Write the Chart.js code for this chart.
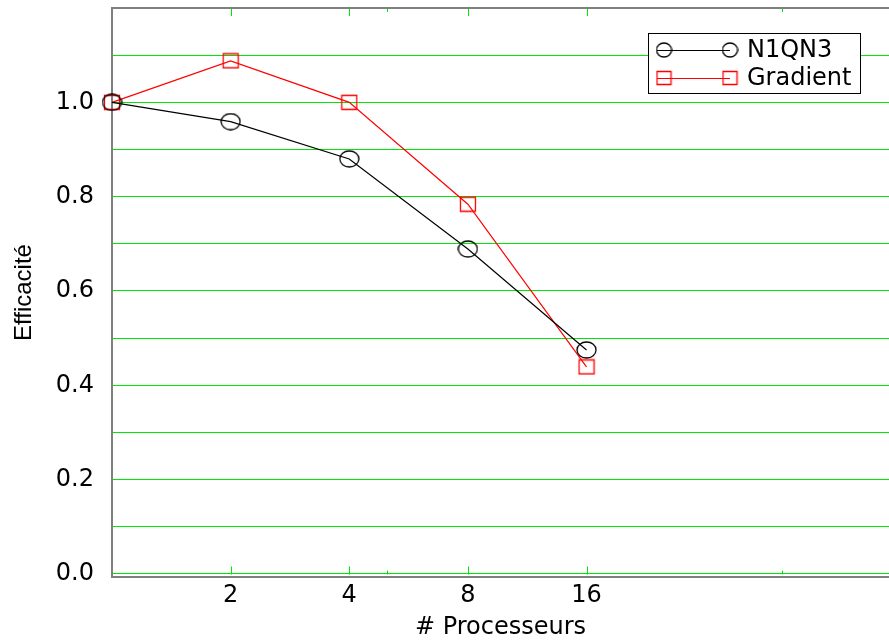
<!DOCTYPE html>
<html>
<head>
<meta charset="utf-8">
<title>Efficacité</title>
<script src="https://cdn.jsdelivr.net/npm/chart.js@4.4.1/dist/chart.umd.min.js"></script>
<style>
  html, body { margin: 0; padding: 0; background: #fff; }
  canvas { display: block; }
</style>
</head>
<body>
<canvas id="graf" width="889" height="644"></canvas>
<script>
// ---- données ----
const procs = [1, 2, 4, 8, 16];
const effN1QN3 = [1.0, 0.959, 0.880, 0.689, 0.475];
const effGradient = [1.0, 1.088, 1.0, 0.784, 0.439];

// graduations
const xTicks = [2, 4, 8, 16];
const xTickLabels = ["2", "4", "8", "16"];
const xMinorTicks = [5, 50];
const yTicks = [0, 0.1, 0.2, 0.3, 0.4, 0.5, 0.6, 0.7, 0.8, 0.9, 1.0, 1.1, 1.2];
const yTickLabels = ["0.0", "", "0.2", "", "0.4", "", "0.6", "", "0.8", "", "1.0", "", ""];

const FONT = "'DejaVu Sans', 'Liberation Sans', Arial, sans-serif";
const FONT_Y = "'Liberation Sans', Arial, Helvetica, sans-serif";
const VERT = "#00e600";
const GRIS = "#7f7f7f";

// marqueurs un peu plus larges que hauts, comme sur l'original
function marqueur(forme, w, h, couleur) {
  const c = document.createElement("canvas");
  c.width = w + 2;
  c.height = h + 2;
  const g = c.getContext("2d");
  g.strokeStyle = couleur;
  g.lineWidth = 1.3;
  g.beginPath();
  if (forme === "rond") {
    g.ellipse(c.width / 2, c.height / 2, w / 2, h / 2, 0, 0, Math.PI * 2);
  } else {
    g.rect(1.5, 1.5, w - 1, h - 1);
  }
  g.stroke();
  return c;
}

const rondGraphe = marqueur("rond", 19, 16, "#000");
const carreGraphe = marqueur("carre", 16, 15, "#ff0000");
const rondLegende = marqueur("rond", 15, 14, "#000");
const carreLegende = marqueur("carre", 15, 14, "#ff0000");

// ---- cadre haut + petites graduations vertes (vers l'intérieur) ----
const cadre = {
  id: "cadre",
  afterDatasetsDraw(chart) {
    const ctx = chart.ctx;
    const a = chart.chartArea;
    const sx = chart.scales.x;
    const sy = chart.scales.y;
    const y0 = Math.round(sy.getPixelForValue(0)) + 0.5;
    ctx.save();
    ctx.strokeStyle = VERT;
    ctx.lineWidth = 1;
    const marque = (v, len) => {
      const px = Math.round(sx.getPixelForValue(v)) + 0.5;
      ctx.beginPath();
      ctx.moveTo(px, y0);
      ctx.lineTo(px, y0 - len);
      ctx.moveTo(px, a.top);
      ctx.lineTo(px, a.top + len);
      ctx.stroke();
    };
    xTicks.forEach(v => marque(v, 8));
    xMinorTicks.forEach(v => marque(v, 4));
    // ligne du haut
    ctx.strokeStyle = GRIS;
    ctx.lineWidth = 2;
    ctx.beginPath();
    ctx.moveTo(a.left, a.top);
    ctx.lineTo(a.right, a.top);
    ctx.stroke();
    ctx.restore();
  }
};

// ---- légende encadrée, marqueur aux deux bouts ----
const legendeBoite = {
  id: "legendeBoite",
  afterDraw(chart) {
    const ctx = chart.ctx;
    const bx = 648, by = 33, bw = 212, bh = 60;
    const icones = [rondLegende, carreLegende];
    ctx.save();
    ctx.fillStyle = "#fff";
    ctx.fillRect(bx, by, bw, bh);
    ctx.strokeStyle = "#000";
    ctx.lineWidth = 1;
    ctx.strokeRect(bx + 0.5, by + 0.5, bw, bh);
    chart.data.datasets.forEach((ds, i) => {
      const yy = by + 17 + i * 28;
      const x1 = 664, x2 = 730;
      ctx.strokeStyle = ds.borderColor;
      ctx.lineWidth = 1;
      ctx.beginPath();
      ctx.moveTo(x1 - 7, yy + 0.5);
      ctx.lineTo(x2, yy + 0.5);
      ctx.stroke();
      const opts = { pointStyle: icones[i], radius: 8, rotation: 0, borderWidth: 1 };
      Chart.helpers.drawPoint(ctx, opts, x1, yy);
      Chart.helpers.drawPoint(ctx, opts, x2, yy);
      ctx.fillStyle = "#000";
      ctx.font = "24px " + FONT;
      ctx.textBaseline = "middle";
      ctx.textAlign = "left";
      ctx.fillText(ds.label, 747, yy + 1);
    });
    ctx.restore();
  }
};

const chart = new Chart(document.getElementById("graf"), {
  type: "line",
  data: {
    datasets: [
      {
        label: "N1QN3",
        data: procs.map((p, i) => ({ x: p, y: effN1QN3[i] })),
        borderColor: "#000",
        borderWidth: 1.2,
        pointStyle: rondGraphe,
        pointRadius: 9,
        tension: 0,
        clip: false
      },
      {
        label: "Gradient",
        data: procs.map((p, i) => ({ x: p, y: effGradient[i] })),
        borderColor: "#ff0000",
        borderWidth: 1.2,
        pointStyle: carreGraphe,
        pointRadius: 9,
        tension: 0,
        clip: false
      }
    ]
  },
  options: {
    responsive: false,
    animation: false,
    devicePixelRatio: 1,
    layout: { autoPadding: false, padding: { top: 8, right: 0, bottom: 0, left: 0 } },
    plugins: {
      legend: { display: false },
      tooltip: { enabled: false }
    },
    scales: {
      x: {
        type: "logarithmic",
        min: 1,
        max: Math.pow(2, 6.55),
        afterBuildTicks: (s) => { s.ticks = xTicks.map(v => ({ value: v })); },
        afterFit: (s) => {
          s.height = 67;
          s.paddingLeft = 0; s.paddingRight = 0;
        },
        ticks: {
          autoSkip: false,
          maxRotation: 0,
          padding: 4,
          color: "#000",
          font: { family: FONT, size: 24 },
          callback: (v) => {
            const k = xTicks.indexOf(v);
            return k >= 0 ? xTickLabels[k] : "";
          }
        },
        grid: { display: false, drawTicks: false },
        border: { display: true, color: GRIS, width: 2 },
        title: {
          display: true,
          text: "# Processeurs",
          color: "#000",
          font: { family: FONT, size: 24 },
          padding: { top: 0, bottom: 2 }
        }
      },
      y: {
        min: -0.0064,
        max: 1.2,
        afterBuildTicks: (s) => { s.ticks = yTicks.map(v => ({ value: v })); },
        afterFit: (s) => {
          s.width = 112;
          s.paddingTop = 0; s.paddingBottom = 0;
        },
        ticks: {
          autoSkip: false,
          padding: 18,
          color: "#000",
          font: { family: FONT, size: 24 },
          callback: (v) => {
            const k = yTicks.findIndex(t => Math.abs(t - v) < 1e-6);
            return k >= 0 ? yTickLabels[k] : "";
          }
        },
        grid: { color: VERT, lineWidth: 1, drawTicks: false },
        border: { display: true, color: GRIS, width: 2 },
        title: {
          display: true,
          text: "Efficacité",
          color: "#000",
          font: { family: FONT_Y, size: 24 },
          padding: { top: 10, bottom: 0 }
        }
      }
    }
  },
  plugins: [cadre, legendeBoite]
});
</script>
</body>
</html>
